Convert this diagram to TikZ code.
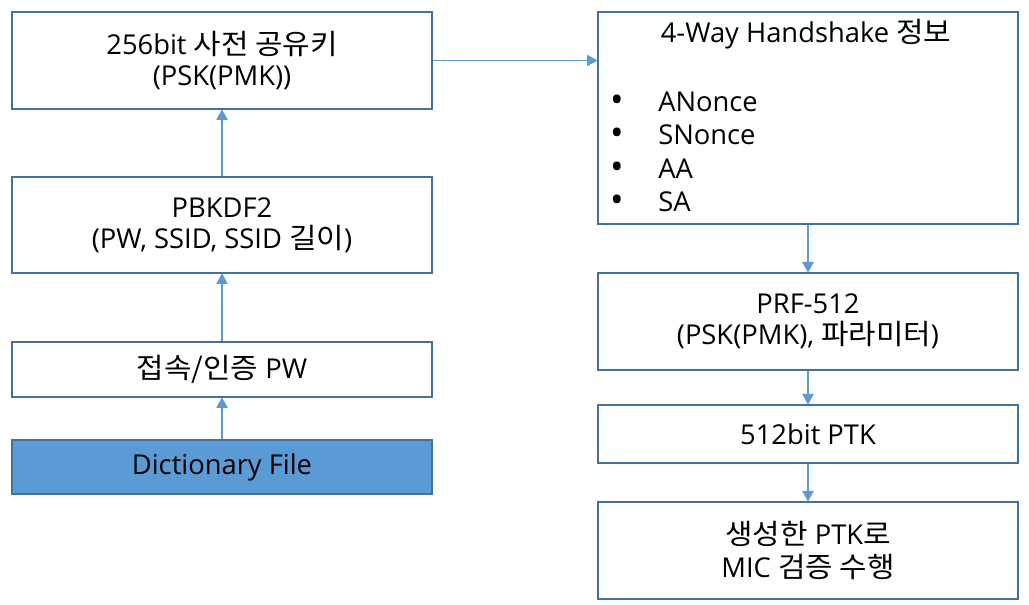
\documentclass[tikz,border=0pt]{standalone}
\usepackage{fontspec}
\setmainfont{Open Sans}
\newfontfamily\K[Scale=1.03,FakeStretch=1.06]{Noto Sans CJK KR}
\usetikzlibrary{arrows.meta}
\definecolor{bord}{HTML}{41719C}
\definecolor{arr}{HTML}{5B9BD5}
\begin{document}
\begin{tikzpicture}[x=0.75pt,y=-0.75pt,
  box/.style={draw=bord, line width=1.5pt, minimum width=315pt, inner sep=0pt, align=center,
    font=\fontsize{20.5}{21.75}\selectfont, text=black},
  txt/.style={inner sep=0pt, font=\fontsize{20.5}{21.75}\selectfont, text=black},
  bul/.style={inner sep=0pt, font=\fontsize{27}{27}\selectfont, text=black},
  conn/.style={draw=arr, line width=0.8pt, -{Triangle[length=8pt,width=8.5pt]}, shorten >=-0.5pt}]
\useasboundingbox (0,0) rectangle (1029,605);
% left column
\node[box, minimum height=72.75pt] (A) at (222,60.5) {256bit {\K 사전 공유키}\\[1pt](PSK(PMK))};
\node[box, minimum height=72pt] (B) at (222,225) {PBKDF2\\[1.5pt](PW, SSID, SSID {\K 길이})};
\node[box, minimum height=41.25pt] (C) at (222,369.5) {{\K 접속/인증} PW};
\node[box, minimum height=40.5pt, fill=arr] (D) at (222,467) {Dictionary File};
% right column
\node[box, minimum height=159pt] (E) at (808,118) {};
\node[txt, anchor=base] (Et) at (806,43) {4-Way Handshake {\K 정보}};
\node[bul, anchor=base] (e1b) at (617,113) {•};
\node[txt, anchor=base west] (e1) at (658,112) {ANonce};
\node[bul, anchor=base] (e2b) at (617,146) {•};
\node[txt, anchor=base west] (e2) at (658,145) {SNonce};
\node[bul, anchor=base] (e3b) at (617,180) {•};
\node[txt, anchor=base west] (e3) at (658,179) {AA};
\node[bul, anchor=base] (e4b) at (617,213) {•};
\node[txt, anchor=base west] (e4) at (658,212) {SA};
\node[box, minimum height=72.75pt] (F) at (808,321.5) {PRF-512\\[1.5pt](PSK(PMK), {\K 파라미터})};
\node[box, minimum height=43.5pt] (G) at (808,434) {512bit PTK};
\node[box, minimum height=72.75pt] (H) at (808,550.5) {{\K 생성한} PTK{\K 로}\\[3pt]MIC {\K 검증 수행}};
% connectors
\draw[conn] (D) -- (C);
\draw[conn] (C) -- (B);
\draw[conn] (B) -- (A);
\draw[conn] (A.east) -- (A.east -| E.west);
\draw[conn] (E) -- (F);
\draw[conn] (F) -- (G);
\draw[conn] (G) -- (H);
\end{tikzpicture}
\end{document}
